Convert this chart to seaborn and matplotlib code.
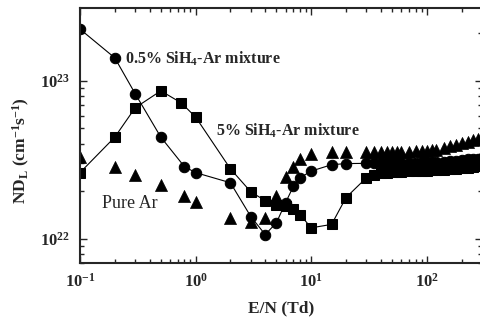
import numpy as np
import pandas as pd
import matplotlib
matplotlib.use("Agg")
import matplotlib.pyplot as plt
import matplotlib.ticker as mticker
import seaborn as sns

# Datos (E/N en Td, ND_L en cm^-1 s^-1)
en_alto = [30, 35, 40, 45, 50, 55, 60, 70, 80, 90, 100, 110, 120, 140, 160, 180, 200, 225, 250, 275, 300]

en_05 = [0.1, 0.2, 0.3, 0.5, 0.8, 1.0, 2, 3, 4, 5, 6, 7, 8, 10, 15, 20] + en_alto
nd_05 = [21.3, 14.0, 8.3, 4.4, 2.86, 2.62, 2.26, 1.38, 1.06, 1.26, 1.69, 2.14, 2.43, 2.68, 2.94, 2.99,
         3.0, 3.0, 3.0, 3.0, 3.0, 3.0, 3.0, 3.02, 3.02, 3.05, 3.05, 3.05, 3.05, 3.08, 3.1, 3.12, 3.15,
         3.18, 3.2, 3.22, 3.25]

en_5 = [0.1, 0.2, 0.3, 0.5, 0.75, 1.0, 2, 3, 4, 5, 6, 7, 8, 10, 15, 20] + en_alto
nd_5 = [2.62, 4.4, 6.75, 8.65, 7.26, 5.9, 2.77, 1.98, 1.74, 1.64, 1.6, 1.53, 1.42, 1.17, 1.23, 1.82,
        2.43, 2.54, 2.6, 2.62, 2.64, 2.65, 2.65, 2.67, 2.68, 2.7, 2.7, 2.71, 2.72, 2.74, 2.75, 2.77,
        2.8, 2.82, 2.85, 2.88, 2.9]

en_ar = [0.1, 0.2, 0.3, 0.5, 0.8, 1.0, 2, 3, 4, 5, 6, 7, 8, 10, 15, 20] + en_alto
nd_ar = [3.3, 2.86, 2.54, 2.2, 1.87, 1.71, 1.36, 1.28, 1.35, 1.85, 2.45, 2.86, 3.2, 3.45, 3.55, 3.55,
         3.55, 3.55, 3.55, 3.55, 3.55, 3.55, 3.55, 3.55, 3.58, 3.6, 3.6, 3.62, 3.65, 3.75, 3.85, 3.95,
         4.05, 4.12, 4.2, 4.25, 4.3]

df_05 = pd.DataFrame({"en": en_05, "nd": np.array(nd_05) * 1e22})
df_5 = pd.DataFrame({"en": en_5, "nd": np.array(nd_5) * 1e22})
df_ar = pd.DataFrame({"en": en_ar, "nd": np.array(nd_ar) * 1e22})

sns.set_style("ticks")
plt.rcParams["font.family"] = ["Liberation Serif", "DejaVu Serif"]
plt.rcParams["mathtext.fontset"] = "custom"
plt.rcParams["mathtext.rm"] = "Liberation Serif"
plt.rcParams["mathtext.bf"] = "Liberation Serif:bold"
plt.rcParams["mathtext.default"] = "regular"

fig = plt.figure(figsize=(4.8, 3.22), dpi=100)
ax = fig.add_axes([80 / 480, 1 - 263 / 322, 402 / 480, 255 / 322])

sns.lineplot(data=df_05, x="en", y="nd", ax=ax, color="black", linewidth=0.8, sort=False,
             marker="o", markersize=7.5, markeredgecolor="black")
sns.lineplot(data=df_5, x="en", y="nd", ax=ax, color="black", linewidth=0.8, sort=False,
             marker="s", markersize=7, markeredgecolor="black")
sns.scatterplot(data=df_ar, x="en", y="nd", ax=ax, color="black", marker="^", s=75,
                edgecolor="black", linewidth=0.5)

ax.set_xscale("log")
ax.set_yscale("log")
ax.set_xlim(0.1, 300)
ax.set_ylim(7e21, 2.9e23)

fmt = mticker.FuncFormatter(lambda v, p: r"$\mathbf{10^{%d}}$" % round(np.log10(v)))
ax.xaxis.set_major_formatter(fmt)
ax.yaxis.set_major_formatter(fmt)
ax.xaxis.set_minor_formatter(mticker.NullFormatter())
ax.yaxis.set_minor_formatter(mticker.NullFormatter())
ax.xaxis.set_major_locator(mticker.LogLocator(base=10))
ax.yaxis.set_major_locator(mticker.LogLocator(base=10))
ax.xaxis.set_minor_locator(mticker.LogLocator(base=10, subs=np.arange(2, 10)))
ax.yaxis.set_minor_locator(mticker.LogLocator(base=10, subs=np.arange(2, 10)))

ax.tick_params(which="both", direction="in", top=True, right=True, labelsize=12, width=1)
ax.tick_params(which="major", length=5, pad=7)
ax.tick_params(which="minor", length=3)
for s in ax.spines.values():
    s.set_linewidth(1.5)

ax.set_xlabel("E/N (Td)", fontsize=12.5, fontweight="bold")
ax.set_ylabel(r"ND$_L$ (cm$^{-1}$s$^{-1}$)", fontsize=12.5, fontweight="bold")
ax.xaxis.set_label_coords(0.5, -0.145)
ax.yaxis.set_label_coords(-0.12, 0.44)

ax.text(0.245, 1.38e23, r"0.5% SiH$_4$-Ar mixture", fontsize=11.5, fontweight="bold", va="center")
ax.text(1.5, 4.8e22, r"5% SiH$_4$-Ar mixture", fontsize=11.5, fontweight="bold", va="center")
ax.text(0.155, 1.67e22, "Pure Ar", fontsize=13, va="center")

fig.savefig("out.png", dpi=100)
